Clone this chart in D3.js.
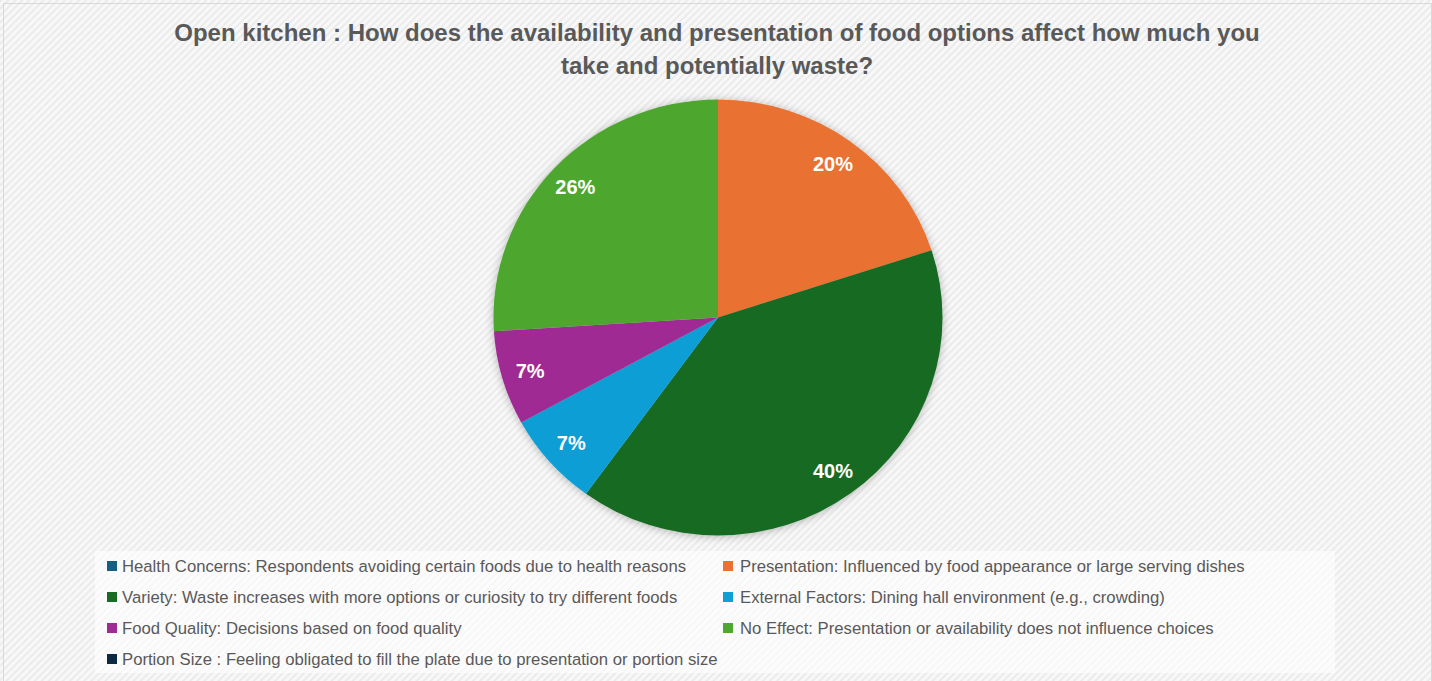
<!DOCTYPE html>
<html>
<head>
<meta charset="utf-8">
<script src="https://cdn.jsdelivr.net/npm/d3@7"></script>
<style>
  html, body { margin: 0; padding: 0; background: #ffffff; }
  svg { display: block; }
</style>
</head>
<body>
<svg id="chart" width="1432" height="681"></svg>
<script>
// Survey responses (share of respondents, %)
const categories = [
  "Health Concerns: Respondents avoiding certain foods due to health reasons",
  "Presentation: Influenced by food appearance or large serving dishes",
  "Variety: Waste increases with more options or curiosity to try different foods",
  "External Factors: Dining hall environment (e.g., crowding)",
  "Food Quality: Decisions based on food quality",
  "No Effect: Presentation or availability does not influence choices",
  "Portion Size : Feeling obligated to fill the plate due to presentation or portion size"
];
const values = [0, 20, 40, 7, 7, 26, 0];
const palette = ["#156082", "#E97132", "#196B24", "#0F9ED5", "#A02B93", "#4EA72E", "#0E2841"];
const titleLines = [
  "Open kitchen : How does the availability and presentation of food options affect how much you",
  "take and potentially waste?"
];

const W = 1432, H = 681;
const svg = d3.select("#chart");
const defs = svg.append("defs");

// diagonal hatch backdrop
const pat = defs.append("pattern")
  .attr("id", "hatch")
  .attr("patternUnits", "userSpaceOnUse")
  .attr("width", 5).attr("height", 5)
  .attr("patternTransform", "rotate(45)");
pat.append("rect").attr("width", 5).attr("height", 5).attr("fill", "#f8f8f8");
pat.append("rect").attr("x", 0).attr("width", 2).attr("height", 5).attr("fill", "#ebebeb");

const shadow = defs.append("filter")
  .attr("id", "pieShadow")
  .attr("x", "-20%").attr("y", "-20%").attr("width", "140%").attr("height", "140%");
shadow.append("feDropShadow")
  .attr("dx", 0).attr("dy", 1)
  .attr("stdDeviation", 4)
  .attr("flood-color", "#000")
  .attr("flood-opacity", 0.28);

svg.append("rect")
  .attr("x", 0).attr("y", 0).attr("width", W).attr("height", H)
  .attr("fill", "url(#hatch)");
svg.append("rect")
  .attr("x", 3.5).attr("y", 3.5).attr("width", W - 4).attr("height", H - 2)
  .attr("fill", "none").attr("stroke", "#d9d9d9").attr("stroke-width", 1);

// title
const title = svg.append("text")
  .attr("text-anchor", "middle")
  .attr("font-family", "'Liberation Sans', Arial, sans-serif")
  .attr("font-weight", "bold")
  .attr("font-size", 24)
  .attr("fill", "#595959");
titleLines.forEach((line, i) => {
  title.append("tspan").attr("x", 717).attr("y", 41 + i * 33).text(line);
});

// pie
const color = d3.scaleOrdinal().domain(categories).range(palette);
const data = categories.map((c, i) => ({ category: c, value: values[i] }));
const pie = d3.pie().sort(null).value(d => d.value);
const arcs = pie(data);

const cx = 718, cy = 317.5, R = 218, sx = 1.03;
const arc = d3.arc().innerRadius(0).outerRadius(R);
const labelArc = d3.arc().innerRadius(190).outerRadius(190);

const pieG = svg.append("g")
  .attr("transform", `translate(${cx},${cy}) scale(${sx},1)`)
  .attr("filter", "url(#pieShadow)");
pieG.selectAll("path")
  .data(arcs.filter(d => d.data.value > 0))
  .join("path")
  .attr("d", arc)
  .attr("fill", d => color(d.data.category));

svg.append("g")
  .attr("transform", `translate(${cx},${cy})`)
  .selectAll("text")
  .data(arcs.filter(d => d.data.value > 0))
  .join("text")
  .attr("x", d => labelArc.centroid(d)[0] * sx)
  .attr("y", d => labelArc.centroid(d)[1])
  .attr("dy", "0.35em")
  .attr("text-anchor", "middle")
  .attr("font-family", "'Liberation Sans', Arial, sans-serif")
  .attr("font-weight", "bold")
  .attr("font-size", 20)
  .attr("fill", "#ffffff")
  .text(d => d3.format(".0%")(d.data.value / d3.sum(values)));

// legend
svg.append("rect")
  .attr("x", 95).attr("y", 551).attr("width", 1240).attr("height", 122)
  .attr("fill", "#ffffff").attr("fill-opacity", 0.6);

const colX = [107, 723];
const rowY = d3.scalePoint().domain([0, 1, 2, 3]).range([566, 659]);
const legend = svg.append("g")
  .attr("font-family", "'Liberation Sans', Arial, sans-serif")
  .attr("font-size", 16.7)
  .attr("fill", "#595959");
const items = legend.selectAll("g")
  .data(categories)
  .join("g")
  .attr("transform", (d, i) => `translate(${colX[i % 2]},${rowY(Math.floor(i / 2))})`);
items.append("rect")
  .attr("x", 0).attr("y", -5).attr("width", 10).attr("height", 10)
  .attr("fill", d => color(d));
items.append("text")
  .attr("x", (d, i) => i % 2 ? 17 : 15).attr("y", 0).attr("dy", "0.36em")
  .text(d => d);
</script>
</body>
</html>
